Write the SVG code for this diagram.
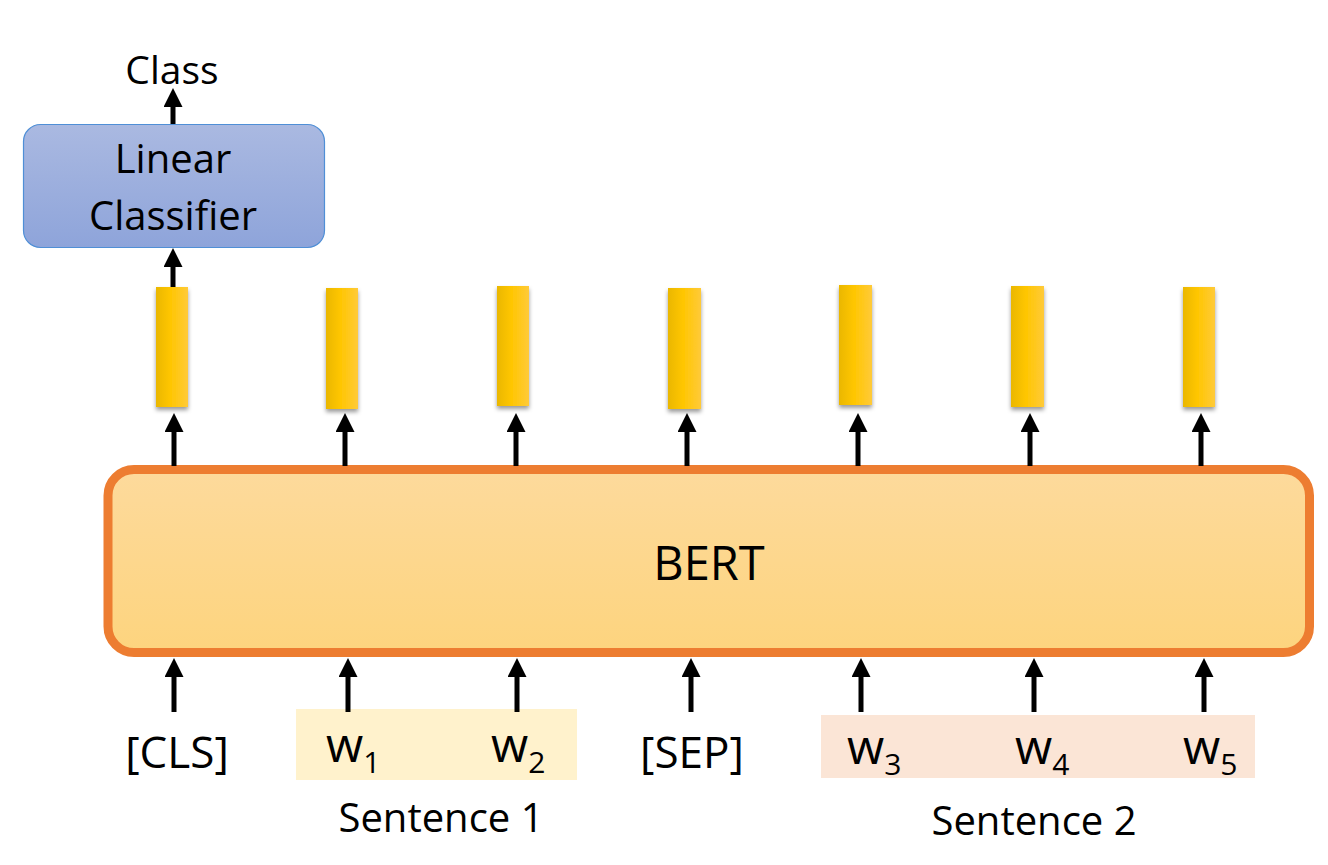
<svg xmlns="http://www.w3.org/2000/svg" width="1328" height="865" viewBox="0 0 1328 865">
<defs>
<style>
text{font-family:"Open Sans","Noto Sans","Liberation Sans",sans-serif;fill:#000}
.lbl{font-size:40px;text-anchor:middle}
.w{font-size:48px}
.sub{font-size:30px}
.arr{stroke:#000;stroke-width:5;fill:none;marker-end:url(#ah)}
.bar{fill:url(#yg);filter:url(#sh)}
</style>
<marker id="ah" viewBox="0 0 19 19" refX="9" refY="9.5" markerWidth="19" markerHeight="19" markerUnits="userSpaceOnUse" orient="auto">
<path d="M0,0 L19,9.5 L0,19 Z" fill="#000"/>
</marker>
<linearGradient id="bg" x1="0" y1="0" x2="0" y2="1">
<stop offset="0" stop-color="#FDDA9C"/>
<stop offset="1" stop-color="#FDD47E"/>
</linearGradient>
<linearGradient id="cg" x1="0" y1="0" x2="0" y2="1">
<stop offset="0" stop-color="#AAB9E1"/>
<stop offset="1" stop-color="#8EA4DA"/>
</linearGradient>
<linearGradient id="yg" x1="0" y1="0" x2="1" y2="0">
<stop offset="0" stop-color="#EAB700"/>
<stop offset="0.45" stop-color="#FFC600"/>
<stop offset="1" stop-color="#FFCA3A"/>
</linearGradient>
<filter id="sh" x="-30%" y="-10%" width="160%" height="130%">
<feDropShadow dx="0" dy="3" stdDeviation="2" flood-color="#000" flood-opacity="0.4"/>
</filter>
</defs>
<rect width="1328" height="865" fill="#fff"/>

<g id="sentence1-bg"><rect x="296" y="709" width="281" height="71" fill="#FFF2CC"/></g>
<g id="sentence2-bg"><rect x="821" y="715" width="434" height="63" fill="#FBE5D6"/></g>

<g id="bert">
<rect x="108" y="469.5" width="1201.5" height="183" rx="26" fill="url(#bg)" stroke="#ED7D31" stroke-width="9"/>
<text x="709" y="580" style="font-size:47px;text-anchor:middle">BERT</text>
</g>

<g id="classifier">
<rect x="23.5" y="124.5" width="301" height="123" rx="17" fill="url(#cg)" stroke="#4F8FD6" stroke-width="1.2"/>
<text class="lbl" x="173" y="173">Linear</text>
<text class="lbl" x="173" y="230">Classifier</text>
</g>

<g id="class-label"><text x="172" y="84" style="font-size:39px;text-anchor:middle">Class</text></g>

<g id="vectors">
<rect class="bar" x="156" y="287" width="32" height="120"/>
<rect class="bar" x="326" y="288" width="32" height="121"/>
<rect class="bar" x="497" y="286" width="32" height="120"/>
<rect class="bar" x="668" y="288" width="33" height="121"/>
<rect class="bar" x="839" y="285" width="33" height="120"/>
<rect class="bar" x="1011" y="286" width="33" height="121"/>
<rect class="bar" x="1183" y="287" width="32" height="120"/>
</g>

<g id="tokens">
<text class="lbl" x="177" y="768" style="font-size:44px">[CLS]</text>
<text class="w" x="326" y="762">w<tspan class="sub" dy="11">1</tspan></text>
<text class="w" x="491" y="762">w<tspan class="sub" dy="11">2</tspan></text>
<text class="lbl" x="692" y="768" style="font-size:44px">[SEP]</text>
<text class="w" x="847" y="764">w<tspan class="sub" dy="11">3</tspan></text>
<text class="w" x="1015" y="764">w<tspan class="sub" dy="11">4</tspan></text>
<text class="w" x="1183" y="764">w<tspan class="sub" dy="11">5</tspan></text>
<text class="lbl" x="441" y="832">Sentence 1</text>
<text class="lbl" x="1034" y="835">Sentence 2</text>
</g>

<g id="connectors">
<line class="arr" x1="173" y1="124" x2="173" y2="98"/>
<line class="arr" x1="173" y1="287" x2="173" y2="258"/>
<line class="arr" x1="174" y1="466" x2="174" y2="423"/>
<line class="arr" x1="345" y1="466" x2="345" y2="423"/>
<line class="arr" x1="516" y1="466" x2="516" y2="423"/>
<line class="arr" x1="687" y1="466" x2="687" y2="423"/>
<line class="arr" x1="858" y1="466" x2="858" y2="423"/>
<line class="arr" x1="1030" y1="466" x2="1030" y2="423"/>
<line class="arr" x1="1201" y1="466" x2="1201" y2="423"/>
<line class="arr" x1="174" y1="712" x2="174" y2="668"/>
<line class="arr" x1="348" y1="712" x2="348" y2="668"/>
<line class="arr" x1="517" y1="712" x2="517" y2="668"/>
<line class="arr" x1="691" y1="712" x2="691" y2="668"/>
<line class="arr" x1="861" y1="712" x2="861" y2="668"/>
<line class="arr" x1="1034" y1="712" x2="1034" y2="668"/>
<line class="arr" x1="1204" y1="712" x2="1204" y2="668"/>
</g>
</svg>
